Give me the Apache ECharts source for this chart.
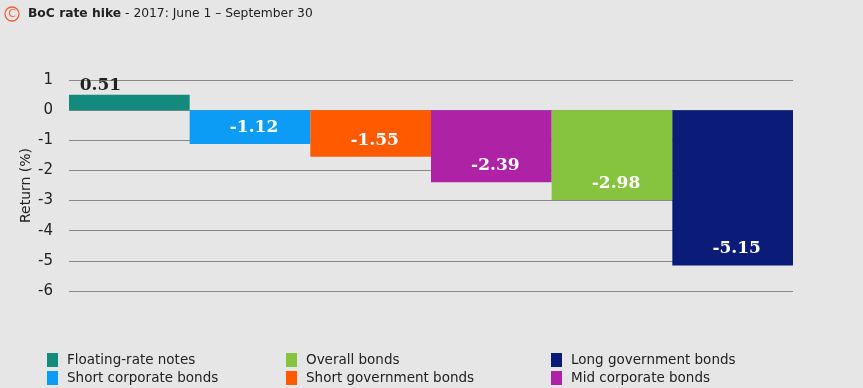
<!DOCTYPE html>
<html>
<head>
<meta charset="utf-8">
<script src="https://cdn.jsdelivr.net/npm/echarts@6/dist/echarts.min.js"></script>
<style>
html,body{margin:0;padding:0;background:#e6e6e6;}
#c{width:863px;height:388px;}
</style>
</head>
<body>
<div id="c"></div>
<script>
var categories = ['Floating-rate notes','Short corporate bonds','Short government bonds','Mid corporate bonds','Overall bonds','Long government bonds'];
var values = [0.51, -1.12, -1.55, -2.39, -2.98, -5.15];
var colors = ['#138a7b','#0d9cf5','#ff5a00','#ae22a6','#86c440','#0b1c78'];
var yTicks = [1,0,-1,-2,-3,-4,-5,-6];
var legendCols = [
  ['Floating-rate notes','Short corporate bonds'],
  ['Overall bonds','Short government bonds'],
  ['Long government bonds','Mid corporate bonds']
];

var series = categories.map(function(name, i){
  var data = categories.map(function(_, j){ return j === i ? values[i] : '-'; });
  var pos = values[i] >= 0;
  return {
    name: name,
    type: 'bar',
    stack: 'all',
    barWidth: '100%',
    barCategoryGap: 0,
    itemStyle: {color: colors[i]},
    label: {
      show: true,
      position: pos ? 'top' : 'insideBottom',
      distance: pos ? 1 : 8,
      offset: pos ? [-29, 0] : [4, 0],
      color: pos ? '#222' : '#fff',
      fontFamily: 'DejaVu Serif',
      fontWeight: 'bold',
      fontSize: 17,
      formatter: function(p){ return p.value.toFixed(2); }
    },
    data: data
  };
});

var legendLeft = [47, 286, 551];
var legends = legendCols.map(function(col, k){
  return {
    orient: 'vertical',
    left: legendLeft[k],
    top: 353,
    padding: 0,
    itemWidth: 11,
    itemHeight: 14,
    itemGap: 4,
    icon: 'rect',
    selectedMode: false,
    textStyle: {fontFamily: 'DejaVu Sans', fontSize: 13.5, color: '#222', padding: [0,0,0,4]},
    data: col
  };
});

var chart = echarts.init(document.getElementById('c'));
chart.setOption({
  backgroundColor: '#e6e6e6',
  animation: false,
  graphic: [
    {type:'circle', shape:{cx:12, cy:14, r:7}, style:{fill:'none', stroke:'#e8643c', lineWidth:1.3}},
    {type:'text', x:12, y:14, style:{text:'C', fill:'#e8643c', font:'11px DejaVu Sans', align:'center', verticalAlign:'middle'}},
    {type:'text', x:28, y:14, style:{
      text:'{b|BoC rate hike} - 2017: June 1 – September 30',
      verticalAlign:'middle',
      font:'12.3px DejaVu Sans', fill:'#222',
      rich:{b:{fontWeight:'bold', fontFamily:'DejaVu Sans', fontSize:12.3, fill:'#222'}}
    }}
  ],
  grid: {left: 69, right: 70, top: 80, bottom: 97},
  legend: legends,
  xAxis: {
    type: 'category',
    data: categories,
    show: false
  },
  yAxis: {
    type: 'value',
    min: -6, max: 1, interval: 1,
    name: 'Return (%)',
    nameLocation: 'middle',
    nameGap: 36,
    nameMoveOverlap: false,
    nameTextStyle: {fontFamily: 'DejaVu Sans', fontSize: 14, color: '#222'},
    axisLine: {show: false},
    axisTick: {show: false},
    axisLabel: {margin: 16, fontFamily: 'DejaVu Sans', fontSize: 15, color: '#222',
      formatter: function(v){ return yTicks.indexOf(v) >= 0 ? String(v) : ''; }},
    splitLine: {lineStyle: {color: '#888', width: 1}}
  },
  series: series
});
</script>
</body>
</html>
